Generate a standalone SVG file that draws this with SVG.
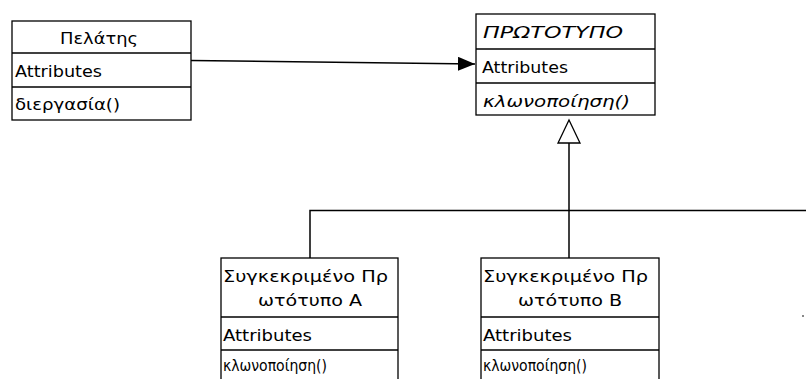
<svg xmlns="http://www.w3.org/2000/svg" width="806" height="379" viewBox="0 0 806 379">
  <style>
    .box { fill: #ffffff; stroke: #000000; stroke-width: 1.3; }
    .sep { stroke: #000000; stroke-width: 1.3; }
    .wire { fill: none; stroke: #000000; stroke-width: 1.5; }
    .t { font-family: "DejaVu Sans", "Liberation Sans", sans-serif; font-size: 16px; fill: #000000; }
    .it { font-style: italic; }
  </style>
  <defs>
    <marker id="assoc" markerWidth="18" markerHeight="14" refX="17" refY="7" orient="auto" markerUnits="userSpaceOnUse">
      <path d="M0,0 L17,7 L0,14 Z" fill="#000000"/>
    </marker>
  </defs>

  <rect width="806" height="379" fill="#ffffff"/>

  <!-- connectors -->
  <g id="connectors">
    <line class="wire" x1="191" y1="60.5" x2="475" y2="64" marker-end="url(#assoc)"/>
    <!-- generalization tree -->
    <line class="wire" x1="569" y1="143" x2="569" y2="258"/>
    <polyline class="wire" points="310,258 310,210.5 806,210.5"/>
    <polygon points="569,120 558,143 580,143" fill="#ffffff" stroke="#000000" stroke-width="1.3"/>
  </g>

  <!-- client class -->
  <g id="pelatis">
    <rect class="box" x="12" y="21" width="179" height="99"/>
    <line class="sep" x1="12" y1="53" x2="191" y2="53"/>
    <line class="sep" x1="12" y1="87" x2="191" y2="87"/>
    <text class="t" x="60" y="44" textLength="78" lengthAdjust="spacingAndGlyphs">Πελάτης</text>
    <text class="t" x="15" y="77" textLength="87" lengthAdjust="spacingAndGlyphs">Attributes</text>
    <text class="t" x="15" y="110" textLength="105" lengthAdjust="spacingAndGlyphs">διεργασία()</text>
  </g>

  <!-- abstract prototype class -->
  <g id="prototypo">
    <rect class="box" x="476" y="14" width="179" height="101"/>
    <line class="sep" x1="476" y1="49" x2="655" y2="49"/>
    <line class="sep" x1="476" y1="83" x2="655" y2="83"/>
    <text class="t it" x="483" y="38" textLength="140" lengthAdjust="spacingAndGlyphs">ΠΡΩΤΟΤΥΠΟ</text>
    <text class="t" x="482" y="73" textLength="86" lengthAdjust="spacingAndGlyphs">Attributes</text>
    <text class="t it" x="483" y="107" textLength="147" lengthAdjust="spacingAndGlyphs">κλωνοποίηση()</text>
  </g>

  <!-- concrete prototype A -->
  <g id="prototypo-a">
    <rect class="box" x="221" y="258" width="177" height="130"/>
    <line class="sep" x1="221" y1="317" x2="398" y2="317"/>
    <line class="sep" x1="221" y1="350" x2="398" y2="350"/>
    <text class="t" x="223" y="282" textLength="165" lengthAdjust="spacingAndGlyphs">Συγκεκριμένο Πρ</text>
    <text class="t" x="258" y="306" textLength="104" lengthAdjust="spacingAndGlyphs">ωτότυπο Α</text>
    <text class="t" x="223" y="341" textLength="89" lengthAdjust="spacingAndGlyphs">Attributes</text>
    <text class="t" x="223" y="371" textLength="104" lengthAdjust="spacingAndGlyphs">κλωνοποίηση()</text>
  </g>

  <!-- concrete prototype B -->
  <g id="prototypo-b">
    <rect class="box" x="481" y="258" width="178" height="130"/>
    <line class="sep" x1="481" y1="317" x2="659" y2="317"/>
    <line class="sep" x1="481" y1="350" x2="659" y2="350"/>
    <text class="t" x="483" y="282" textLength="165" lengthAdjust="spacingAndGlyphs">Συγκεκριμένο Πρ</text>
    <text class="t" x="518" y="306" textLength="104" lengthAdjust="spacingAndGlyphs">ωτότυπο Β</text>
    <text class="t" x="483" y="341" textLength="89" lengthAdjust="spacingAndGlyphs">Attributes</text>
    <text class="t" x="483" y="371" textLength="104" lengthAdjust="spacingAndGlyphs">κλωνοποίηση()</text>
  </g>

  <!-- small speck at the right edge -->
  <rect x="802" y="315" width="2" height="2" fill="#888888"/>
</svg>
